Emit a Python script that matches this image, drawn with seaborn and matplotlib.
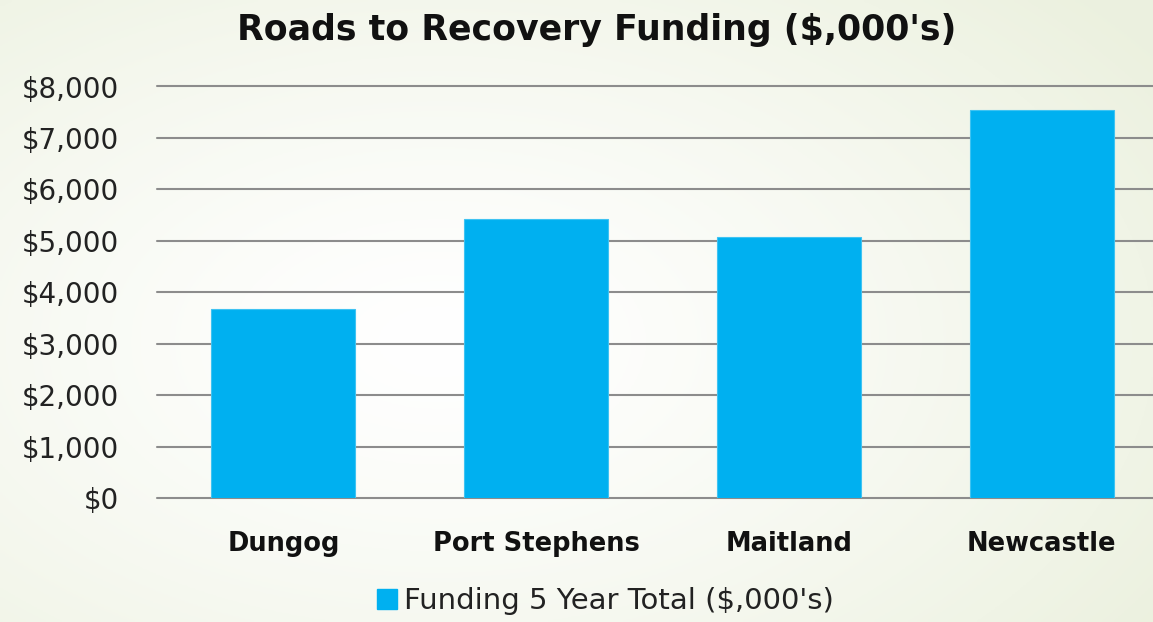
import numpy as np
import matplotlib
matplotlib.use("Agg")
import matplotlib.pyplot as plt
import seaborn as sns
import pandas as pd
from matplotlib.lines import Line2D

categories = ["Dungog", "Port Stephens", "Maitland", "Newcastle"]
values = [3680, 5430, 5065, 7550]
yticks = [0, 1000, 2000, 3000, 4000, 5000, 6000, 7000, 8000]
ytick_labels = ["$0", "$1,000", "$2,000", "$3,000", "$4,000", "$5,000", "$6,000", "$7,000", "$8,000"]
title = "Roads to Recovery Funding ($,000's)"
legend_label = "Funding 5 Year Total ($,000's)"

sns.set_theme(style="white")
plt.rcParams['font.family'] = ['DejaVu Sans']

W, H = 1153, 622
fig = plt.figure(figsize=(W / 100, H / 100), dpi=100)

# background gradient
bg = fig.add_axes([0, 0, 1, 1], zorder=-10)
yy, xx = np.mgrid[0:1:200j, 0:1:400j]
cx, cy = 0.38, 0.45
d = np.sqrt(((xx - cx) / 1.0) ** 2 + ((yy - cy) / 1.1) ** 2)
d = np.clip(d / 0.75, 0, 1) ** 1.3
c0 = np.array([1.0, 1.0, 1.0])
c1 = np.array([0.925, 0.945, 0.875])
img = c0[None, None, :] * (1 - d[..., None]) + c1[None, None, :] * d[..., None]
bg.imshow(img, aspect='auto', extent=[0, 1, 0, 1], origin='lower')
bg.axis('off')

ax = fig.add_axes([157 / W, (H - 498) / H, 1 - 157 / W, (498 - 86.5) / H])
ax.set_facecolor('none')
df = pd.DataFrame({"Council": categories, "Funding": values})
sns.barplot(data=df, x="Council", y="Funding", color="#00B0F0", width=0.57,
            saturation=1, ax=ax, edgecolor="#3FC3F2", linewidth=0.8, zorder=3)
ax.set_xlim(-0.5, 3.44)
ax.set_ylim(0, 8000)
ax.set_yticks(yticks)
ax.set_yticklabels(ytick_labels)
ax.yaxis.grid(True, color="#8C8C8C", linewidth=1.5, zorder=0)
for gl in ax.get_ygridlines():
    gl.set_clip_on(False)
ax.set_axisbelow(True)
for s in ax.spines.values():
    s.set_visible(False)
ax.set_xlabel("")
ax.set_ylabel("")
ax.tick_params(axis='y', length=0, pad=27, labelsize=20, labelcolor="#222222")
ax.tick_params(axis='x', length=0, pad=24, labelsize=18.5)
for lbl in ax.get_xticklabels():
    lbl.set_fontweight('bold')
    lbl.set_color("#111111")

fig.text(597 / W, 1 - 30 / H, title, ha='center', va='center',
         fontsize=25, fontweight='bold', color="#111111")

handle = Line2D([], [], marker='s', linestyle='none', markersize=14,
                markerfacecolor="#00B0F0", markeredgecolor="#00B0F0")
fig.legend([handle], [legend_label], loc='center', bbox_to_anchor=(603 / W, 1 - 601 / H),
           frameon=False, fontsize=21, handletextpad=0.1, handlelength=1.0,
           labelcolor="#222222")

fig.savefig("out.png", dpi=100)
